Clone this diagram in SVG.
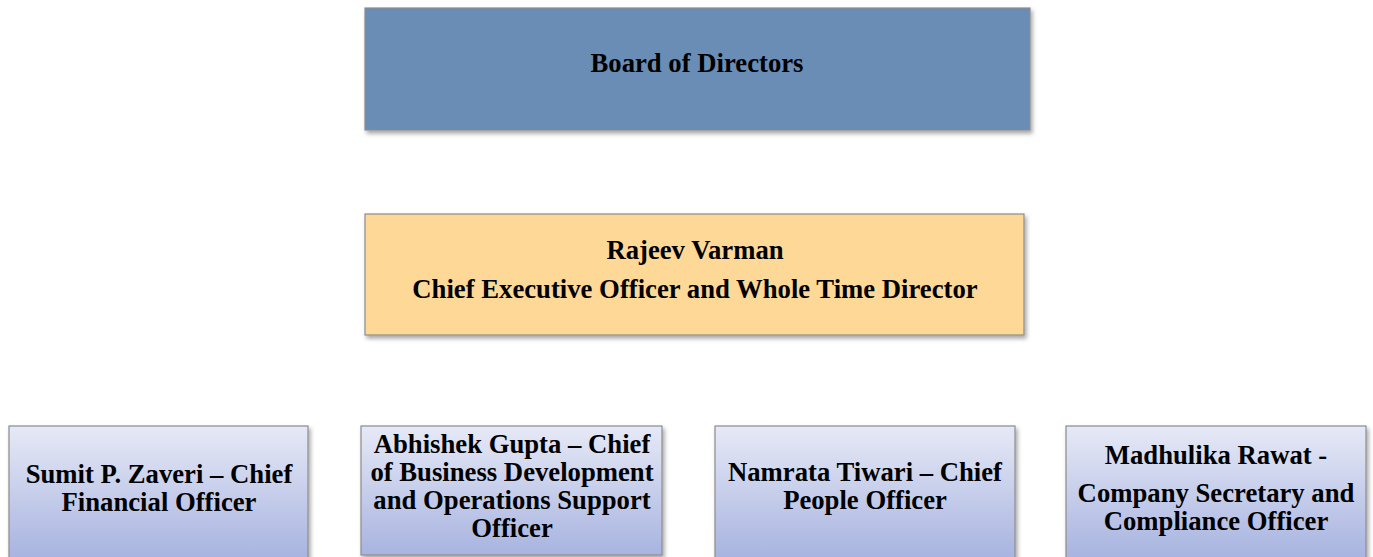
<svg xmlns="http://www.w3.org/2000/svg" width="1373" height="557" viewBox="0 0 1373 557">
<style>
text{font-family:"Liberation Serif","Times New Roman",serif;font-weight:bold;font-size:26.7px;fill:#000;text-anchor:middle}
.box{stroke:#8c8c8c;stroke-width:1.2}
</style>
<defs>
<filter id="sh" x="-5%" y="-10%" width="110%" height="125%">
<feDropShadow dx="2" dy="3" stdDeviation="2" flood-color="#000" flood-opacity="0.35"/>
</filter>
<linearGradient id="lav" x1="0" y1="0" x2="0" y2="1">
<stop offset="0" stop-color="#e6e9f6"/>
<stop offset="1" stop-color="#a8b4e0"/>
</linearGradient>
</defs>
<rect width="1373" height="557" fill="#fff"/>
<g id="connectors"></g>
<g id="board">
<rect class="box" x="365" y="8" width="665" height="122" fill="#6b8db5" stroke="#5a6f8c" filter="url(#sh)"/>
<text x="697" y="72">Board of Directors</text>
</g>
<g id="ceo">
<rect class="box" x="365" y="214" width="659" height="121" fill="#fed897" filter="url(#sh)"/>
<text x="695" y="259">Rajeev Varman</text>
<text x="695" y="298">Chief Executive Officer and Whole Time Director</text>
</g>
<g id="cfo">
<rect class="box" x="9" y="426" width="299" height="132" fill="url(#lav)" filter="url(#sh)"/>
<text x="159" y="483">Sumit P. Zaveri – Chief</text>
<text x="159" y="511">Financial Officer</text>
</g>
<g id="cbo">
<rect class="box" x="361" y="426" width="301" height="129" fill="url(#lav)" filter="url(#sh)"/>
<text x="512" y="453">Abhishek Gupta – Chief</text>
<text x="512" y="481">of Business Development</text>
<text x="512" y="509">and Operations Support</text>
<text x="512" y="537">Officer</text>
</g>
<g id="cpo">
<rect class="box" x="715" y="426" width="300" height="132" fill="url(#lav)" filter="url(#sh)"/>
<text x="865" y="481">Namrata Tiwari – Chief</text>
<text x="865" y="509">People Officer</text>
</g>
<g id="cs">
<rect class="box" x="1066" y="426" width="300" height="132" fill="url(#lav)" filter="url(#sh)"/>
<text x="1216" y="464">Madhulika Rawat -</text>
<text x="1216" y="502">Company Secretary and</text>
<text x="1216" y="530">Compliance Officer</text>
</g>
</svg>
